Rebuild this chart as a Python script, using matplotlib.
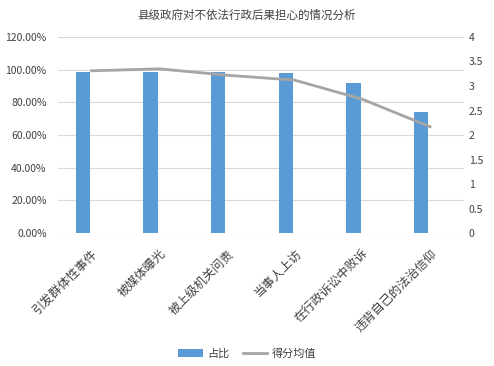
import matplotlib
matplotlib.use("Agg")
from matplotlib import pyplot as plt
from matplotlib.ticker import FuncFormatter

plt.rcParams['font.family'] = ['Noto Sans CJK SC', 'DejaVu Sans']

categories = ["引发群体性事件", "被媒体曝光", "被上级机关问责", "当事人上访", "在行政诉讼中败诉", "违背自己的法治信仰"]
share = [0.988, 0.986, 0.984, 0.979, 0.921, 0.74]
mean_score = [3.31, 3.35, 3.22, 3.12, 2.73, 2.17]

fig = plt.figure(figsize=(4.94, 3.66), dpi=100)
ax = fig.add_axes([0.117, 0.363, 0.822, 0.536])
ax2 = ax.twinx()

x = list(range(len(categories)))
bars = ax.bar([i - 0.13 for i in x], share, width=0.21, color="#5b9bd5", label="占比", zorder=2)
line, = ax2.plot(x, mean_score, color="#a5a5a5", lw=2, label="得分均值", zorder=3)

ax.set_xlim(-0.5, len(categories) - 0.5)
ax.set_ylim(0, 1.2)
ax.set_yticks([0, 0.2, 0.4, 0.6, 0.8, 1.0, 1.2])
ax.yaxis.set_major_formatter(FuncFormatter(lambda v, p: f"{v*100:.2f}%"))
ax2.set_ylim(0, 4)
ax2.set_yticks([0, 0.5, 1, 1.5, 2, 2.5, 3, 3.5, 4])
ax2.set_yticklabels(["0", "0.5", "1", "1.5", "2", "2.5", "3", "3.5", "4"])
ax.grid(axis="y", color="#d9d9d9", lw=0.8, zorder=0)
ax.set_axisbelow(True)

ax.set_xticks(x)
ax.set_xticklabels(categories, rotation=45, ha="right", rotation_mode="anchor", color="#404040")
for a in (ax, ax2):
    for s in a.spines.values():
        s.set_visible(False)
    a.tick_params(length=0, labelsize=7.5, colors="#404040")
ax.tick_params(axis="x", pad=10, labelsize=8.8)
ax.tick_params(axis="y", pad=8)

fig.text(0.5, 0.958, "县级政府对不依法行政后果担心的情况分析", ha="center", va="center", fontsize=8.3, color="#404040")
fig.legend(handles=[bars, line], loc="center", bbox_to_anchor=(0.5, 0.033), ncol=2, frameon=False,
           fontsize=8, handlelength=2.2, handletextpad=0.4, columnspacing=1.2, labelcolor="#404040")

fig.savefig("out.png", dpi=100)
